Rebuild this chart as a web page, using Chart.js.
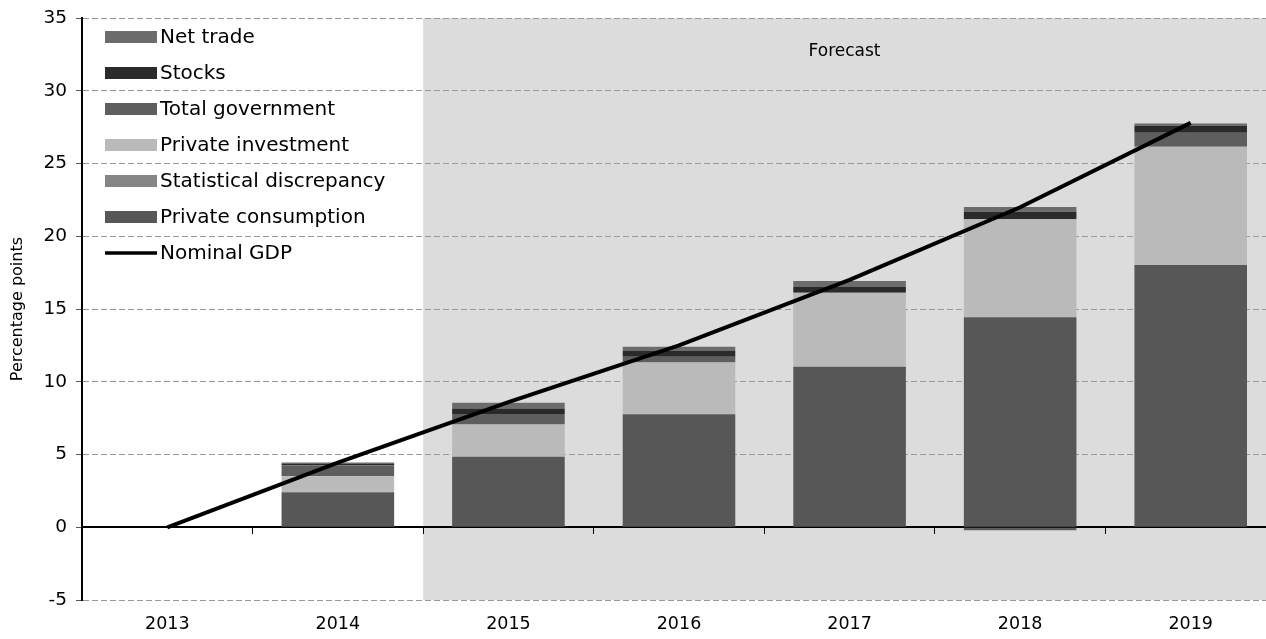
<!DOCTYPE html>
<html>
<head>
<meta charset="utf-8">
<script src="https://cdn.jsdelivr.net/npm/chart.js@4/dist/chart.umd.min.js"></script>
<style>
  html, body { margin: 0; padding: 0; background: #fff; overflow: hidden; }
  #wrap { width: 1276px; height: 641px; position: relative; margin-top: -2px; }
</style>
</head>
<body>
<div id="wrap"><canvas id="c"></canvas></div>
<script>
const years = ["2013", "2014", "2015", "2016", "2017", "2018", "2019"];
const privateConsumption = [null, 2.4, 4.84, 7.77, 11.03, 14.44, 18.02];
const statDiscrepancy    = [null, 0.0, 0.0, 0.0, 0.0, 0.0, 0.0];
const privateInvestment  = [null, 1.1, 2.23, 3.56, 5.09, 6.74, 8.14];
const totalGovernment    = [null, 0.75, 0.71, 0.39, 0.0, -0.2, 0.96];
const stocks             = [null, 0.1, 0.39, 0.39, 0.39, 0.5, 0.48];
const netTrade           = [null, 0.1, 0.39, 0.3, 0.41, 0.34, 0.16];
const nominalGDP         = [0, 4.45, 8.6, 12.5, 17.0, 22.0, 27.8];

const FONT = "'DejaVu Sans', sans-serif";

// grey band + label for the forecast years
const forecastBand = {
  id: "forecastBand",
  beforeDraw(chart) {
    const { ctx, chartArea, scales } = chart;
    const x0 = (scales.x.getPixelForValue(1) + scales.x.getPixelForValue(2)) / 2;
    ctx.save();
    ctx.fillStyle = "#dcdcdc";
    ctx.fillRect(x0, chartArea.top, chartArea.right - x0, chartArea.bottom - chartArea.top);
    ctx.fillStyle = "#000";
    ctx.font = "17px " + FONT;
    ctx.textAlign = "center";
    ctx.textBaseline = "middle";
    ctx.fillText("Forecast", (x0 + 1266) / 2, 54);
    ctx.restore();
  }
};

// legend drawn inside the plot, top-left
const insideLegend = {
  id: "insideLegend",
  afterDraw(chart) {
    const { ctx } = chart;
    const order = [5, 4, 3, 2, 1, 0, 6];
    ctx.save();
    ctx.font = "20px " + FONT;
    ctx.textBaseline = "middle";
    order.forEach((i, row) => {
      const ds = chart.data.datasets[i];
      const y = 39 + row * 36;
      if (ds.type === "line") {
        ctx.strokeStyle = "#000";
        ctx.lineWidth = 3.5;
        ctx.beginPath();
        ctx.moveTo(105, y);
        ctx.lineTo(157, y);
        ctx.stroke();
      } else {
        ctx.fillStyle = ds.backgroundColor;
        ctx.fillRect(105, y - 6, 52, 12);
      }
      ctx.fillStyle = "#000";
      ctx.fillText(ds.label, 160, y + 1);
    });
    ctx.restore();
  }
};

function bar(label, data, color) {
  return { type: "bar", label, data, backgroundColor: color, borderWidth: 0,
           barPercentage: 0.66, categoryPercentage: 1 };
}

new Chart(document.getElementById("c"), {
  data: {
    labels: years,
    datasets: [
      bar("Private consumption", privateConsumption, "#575757"),
      bar("Statistical discrepancy", statDiscrepancy, "#858585"),
      bar("Private investment", privateInvestment, "#bababa"),
      bar("Total government", totalGovernment, "#5e5e5e"),
      bar("Stocks", stocks, "#2a2a2a"),
      bar("Net trade", netTrade, "#6c6c6c"),
      { type: "line", label: "Nominal GDP", data: nominalGDP, stack: "gdp", order: -1,
        borderColor: "#000", borderWidth: 4, pointRadius: 0, tension: 0 }
    ]
  },
  options: {
    responsive: true,
    maintainAspectRatio: false,
    animation: false,
    layout: { padding: { top: 16, right: 0, left: 0, bottom: 0 } },
    plugins: { legend: { display: false }, tooltip: { enabled: false } },
    scales: {
      x: {
        stacked: true,
        offset: true,
        grid: { display: false },
        border: { display: false },
        ticks: { color: "#000", font: { family: FONT, size: 17.5 }, maxRotation: 0, padding: 6 },
        afterFit: s => { s.height = 39; }
      },
      x2: {
        type: "category",
        labels: years,
        position: { y: 0 },
        offset: true,
        grid: { drawOnChartArea: false, drawTicks: true, tickLength: 6, color: "#000", offset: true },
        border: { color: "#000", width: 2 },
        ticks: { display: false }
      },
      y: {
        stacked: true,
        min: -5,
        max: 35,
        ticks: { stepSize: 5, color: "#000", font: { family: FONT, size: 18.5 }, padding: 9 },
        grid: {
          color: c => c.tick && c.tick.value === 0 ? "rgba(0,0,0,0)" : "#999",
          tickBorderDash: [],
          tickColor: "#555",
          tickLength: 6,
          lineWidth: 1
        },
        border: { color: "#000", width: 2, dash: [6, 3] },
        title: { display: true, text: "Percentage points", color: "#000",
                 font: { family: FONT, size: 16 }, padding: { top: 8, bottom: 0 } },
        afterFit: s => { s.width = 82; }
      }
    }
  },
  plugins: [forecastBand, insideLegend]
});
</script>
</body>
</html>
